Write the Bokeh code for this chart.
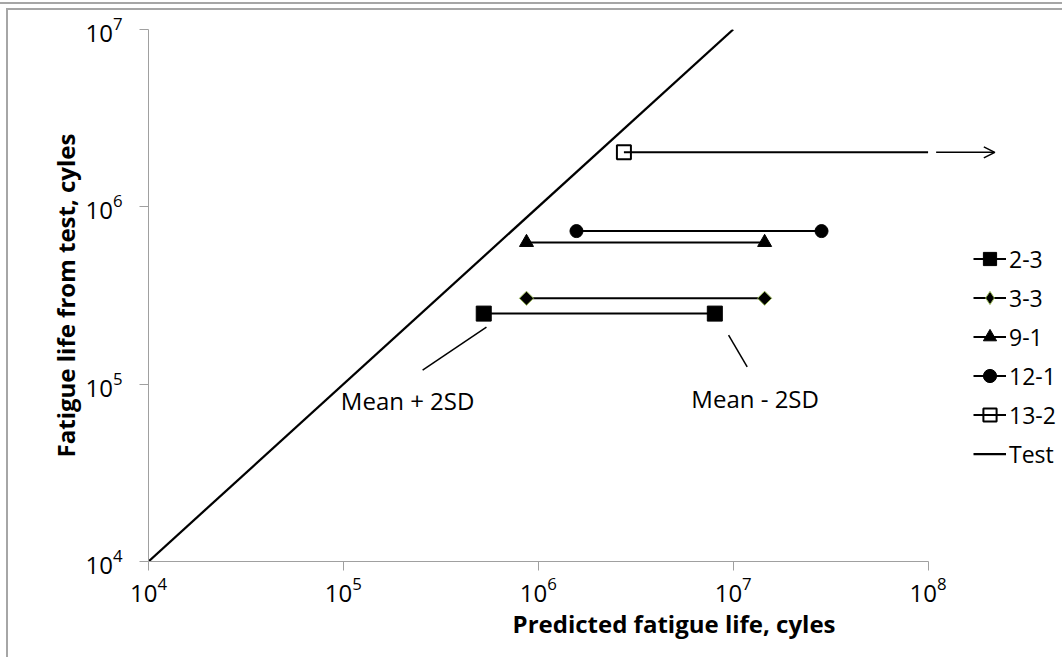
from bokeh.plotting import figure
from bokeh.models import (Range1d, FixedTicker, Legend, LegendItem, Label, Title,
                          Arrow, OpenHead, ColumnDataSource)
from bokeh.layouts import column
from bokeh.embed import file_html
from bokeh.resources import INLINE

FONT = "Open Sans"

# Specimen results: predicted life range (mean + 2SD .. mean - 2SD) vs tested life
series = ["2-3", "3-3", "9-1", "12-1", "13-2"]
pred_low = [5.25e5, 8.7e5, 8.7e5, 1.57e6, 2.75e6]
pred_high = [8.05e6, 1.45e7, 1.45e7, 2.84e7, 1.0e8]
test_life = [2.5e5, 3.05e5, 6.3e5, 7.3e5, 2.03e6]

# 1:1 reference line
test_x = [1e4, 1e7]
test_y = [1e4, 1e7]

# run-out arrow for specimen 13-2
runout_x = [1.1e8, 2.2e8]
runout_y = 2.03e6

x_ticks = [1e4, 1e5, 1e6, 1e7, 1e8]
y_ticks = [1e4, 1e5, 1e6, 1e7]

# callout leader lines
lead_plus_x = [2.55e5, 5.42e5]
lead_plus_y = [1.2e5, 2.1e5]
lead_minus_x = [9.47e6, 1.18e7]
lead_minus_y = [1.89e5, 1.25e5]

W, H = 1056, 649
p = figure(width=W, height=H, x_axis_type="log", y_axis_type="log",
           x_range=Range1d(1e4, 10 ** 8.7), y_range=Range1d(1e4, 1e7),
           output_backend="svg", toolbar_location=None,
           min_border_left=140, min_border_right=0,
           min_border_top=19, min_border_bottom=98)
p.styles = {"border-top": "2px solid #a6a6a6", "border-left": "2px solid #a6a6a6"}
p.outline_line_color = None
p.grid.visible = False
p.background_fill_color = "white"
p.border_fill_color = "white"

AXIS_GRAY = "#a0a0a0"
for ax in (p.xaxis[0], p.yaxis[0]):
    ax.axis_line_color = AXIS_GRAY
    ax.major_tick_line_color = AXIS_GRAY
    ax.minor_tick_line_color = None
    ax.major_tick_in = 0
    ax.major_tick_out = 9
    ax.major_label_text_font = FONT
    ax.major_label_text_font_size = "24px"
    ax.major_label_text_color = "black"
    ax.axis_label_text_font = FONT
    ax.axis_label_text_font_size = "24px"
    ax.axis_label_text_font_style = "bold"
    ax.axis_label_text_color = "black"

p.xaxis.ticker = FixedTicker(ticks=x_ticks)
p.xaxis.bounds = (1e4, 1e8)
p.xaxis.major_label_standoff = 6
p.xaxis.major_label_text_align = "left"

p.yaxis.ticker = FixedTicker(ticks=y_ticks)
p.yaxis.axis_label = "Fatigue life from test, cyles"
p.yaxis.major_label_standoff = 17
p.yaxis.axis_label_standoff = 0

# x-axis title, right-aligned under the axis
p.add_layout(Title(text="Predicted fatigue life, cyles", align="right", offset=229,
                   text_font=FONT, text_font_size="24px", text_font_style="bold",
                   text_color="black", standoff=0), "below")

styles = {
    "2-3": dict(marker="square", size=15, fill_color="black", line_color="black", angle=0.0),
    "3-3": dict(marker="square", size=10, fill_color="black", line_color="#9BBB59", angle=0.785398),
    "9-1": dict(marker="triangle", size=14, fill_color="black", line_color="black", angle=0.0),
    "12-1": dict(marker="circle", size=13, fill_color="black", line_color="black", angle=0.0),
    "13-2": dict(marker="square", size=14, fill_color="white", line_color="black", angle=0.0),
}

items = []
for name, lo, hi, t in zip(series, pred_low, pred_high, test_life):
    st = styles[name]
    src = ColumnDataSource(dict(x=[lo, hi], y=[t, t]))
    seg_src = ColumnDataSource(dict(x0=[lo], x1=[hi], y0=[t], y1=[t]))
    if name == "13-2":
        # only the lower bound is a point; the segment runs on past it
        pt_src = ColumnDataSource(dict(x=[lo], y=[t]))
        sc = p.scatter("x", "y", source=pt_src, marker=st["marker"], size=st["size"],
                       fill_color=st["fill_color"], line_color=st["line_color"],
                       line_width=2, angle=st["angle"])
        seg = p.segment("x0", "y0", "x1", "y1", source=seg_src, line_color="black", line_width=2)
        items.append(LegendItem(label=name, renderers=[sc, seg]))
        continue
    seg = p.segment("x0", "y0", "x1", "y1", source=seg_src, line_color="black", line_width=2)
    if name == "3-3":
        # legend swatch: upright diamond (the legend sizes markers from its box,
        # so the tiny copy stays hidden under the rotated squares)
        key = p.scatter("x", "y", source=src, marker="diamond", size=1, fill_color="black",
                        line_color="#9BBB59", line_width=1)
    sc = p.scatter("x", "y", source=src, marker=st["marker"], size=st["size"],
                   fill_color=st["fill_color"], line_color=st["line_color"],
                   line_width=1, angle=st["angle"])
    items.append(LegendItem(label=name, renderers=[seg, key if name == "3-3" else sc]))

test_r = p.line(test_x, test_y, line_color="black", line_width=2.25)
items.append(LegendItem(label="Test", renderers=[test_r]))

p.add_layout(Arrow(end=OpenHead(size=11, line_width=1.5, line_color="black"),
                   x_start=runout_x[0], y_start=runout_y,
                   x_end=runout_x[1], y_end=runout_y,
                   line_width=1.5, line_color="black"))

p.line(lead_plus_x, lead_plus_y, line_color="black", line_width=1.5)
p.line(lead_minus_x, lead_minus_y, line_color="black", line_width=1.5)

p.add_layout(Label(x=9.7e4, y=1.0e5, text="Mean + 2SD", text_font=FONT,
                   text_font_size="24px", text_baseline="top", text_align="left",
                   text_color="black"))
p.add_layout(Label(x=6.1e6, y=1.03e5, text="Mean - 2SD", text_font=FONT,
                   text_font_size="24px", text_baseline="top", text_align="left",
                   text_color="black"))

legend = Legend(items=items, location=(825, 91), glyph_width=33, glyph_height=33,
                spacing=6, padding=0, margin=0, label_standoff=3,
                label_text_font=FONT, label_text_font_size="23px",
                label_text_color="black",
                border_line_color=None, background_fill_alpha=0)
p.add_layout(legend)

layout = column(p, styles={"border-top": "2px solid #a6a6a6", "padding-top": "4px",
                           "padding-left": "6px", "margin-top": "2px"})

open("out.html", "w").write(file_html(layout, INLINE))
